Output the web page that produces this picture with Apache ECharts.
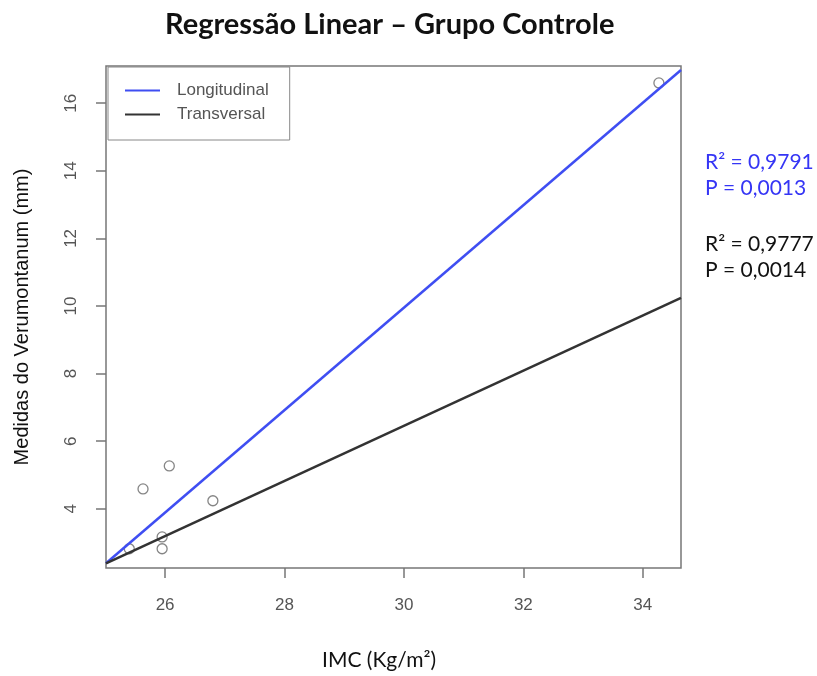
<!DOCTYPE html>
<html>
<head>
<meta charset="utf-8">
<script src="https://cdn.jsdelivr.net/npm/echarts@6/dist/echarts.min.js"></script>
<style>
  html, body { margin: 0; padding: 0; background: #fff; }
  #chart { width: 817px; height: 676px; }
</style>
</head>
<body>
<div id="chart"></div>
<script>
  // pontos observados (IMC x medida)
  const imc = [25.40, 25.63, 25.95, 25.95, 26.07, 26.80, 34.27];
  const medidas = [2.82, 4.59, 3.17, 2.82, 5.27, 4.24, 16.6];

  // retas de regressão, nos extremos do eixo x
  const retaX = [25.01, 34.64];
  const longitudinal = [2.39, 16.98];
  const transversal = [2.39, 10.24];

  const xTicks = [26, 28, 30, 32, 34];
  const yTicks = [4, 6, 8, 10, 12, 14, 16];

  const pontos = imc.map((x, i) => [x, medidas[i]]);
  const linhaLong = retaX.map((x, i) => [x, longitudinal[i]]);
  const linhaTrans = retaX.map((x, i) => [x, transversal[i]]);

  let chart = echarts.init(document.getElementById('chart'));

  var option = {
    animation: false,
    title: {
      text: 'Regressão Linear – Grupo Controle',
      left: 160,
      top: 5,
      textStyle: { fontFamily: 'Lato', fontWeight: 'bold', fontSize: 29, color: '#111' }
    },
    legend: {
      data: ['Longitudinal', 'Transversal'],
      orient: 'vertical',
      left: 108,
      top: 67,
      padding: [15, 21, 17, 17],
      borderColor: '#888',
      borderWidth: 1,
      borderRadius: 0,
      icon: 'rect',
      itemWidth: 35,
      itemHeight: 2,
      itemGap: 7,
      textStyle: { fontFamily: 'Liberation Sans', fontSize: 17, color: '#555', lineHeight: 15, padding: [0, 0, 0, 12] }
    },
    grid: {
      left: 106,
      right: 136,
      top: 66,
      bottom: 108,
      show: true,
      borderColor: '#777',
      borderWidth: 1.5
    },
    xAxis: {
      type: 'value',
      min: retaX[0],
      max: retaX[1],
      axisLine: { show: false },
      splitLine: { show: false },
      axisTick: { show: true, length: 10, customValues: xTicks, lineStyle: { color: '#777', width: 1.5 } },
      axisLabel: { customValues: xTicks, margin: 29, fontFamily: 'Liberation Sans', fontSize: 17, color: '#555' }
    },
    yAxis: {
      type: 'value',
      min: 2.25,
      max: 17.1,
      name: 'Medidas do Verumontanum (mm)',
      nameLocation: 'middle',
      nameGap: 74,
      nameTextStyle: { fontFamily: 'Liberation Sans', fontSize: 20, color: '#111' },
      axisLine: { show: false },
      splitLine: { show: false },
      axisTick: { show: true, length: 10, customValues: yTicks, lineStyle: { color: '#777', width: 1.5 } },
      axisLabel: { customValues: yTicks, rotate: 90, margin: 26, fontFamily: 'Liberation Sans', fontSize: 17, color: '#555' }
    },
    series: [
      {
        name: 'Longitudinal',
        type: 'line',
        data: linhaLong,
        showSymbol: false,
        color: '#3f4ef2',
        lineStyle: { color: '#3f4ef2', width: 2.5 },
        z: 3
      },
      {
        name: 'Transversal',
        type: 'line',
        data: linhaTrans,
        showSymbol: false,
        color: '#333',
        lineStyle: { color: '#333', width: 2.5 },
        z: 3
      },
      {
        name: 'pontos',
        type: 'scatter',
        data: pontos,
        symbol: 'circle',
        symbolSize: 10,
        itemStyle: { color: 'rgba(255,255,255,0)', borderColor: '#666', borderWidth: 1.3 },
        z: 2
      }
    ],
    graphic: [
      { type: 'text', left: 322, top: 650, style: { text: 'IMC (Kg/m²)', fontFamily: 'Lato', fontSize: 21, fill: '#111' } },
      { type: 'text', left: 705, top: 152, style: { text: 'R² = 0,9791', fontFamily: 'Lato', fontSize: 21, fill: '#3535f5' } },
      { type: 'text', left: 705, top: 178, style: { text: 'P = 0,0013', fontFamily: 'Lato', fontSize: 21, fill: '#3535f5' } },
      { type: 'text', left: 705, top: 234, style: { text: 'R² = 0,9777', fontFamily: 'Lato', fontSize: 21, fill: '#111' } },
      { type: 'text', left: 705, top: 260, style: { text: 'P = 0,0014', fontFamily: 'Lato', fontSize: 21, fill: '#111' } }
    ]
  };

  chart.setOption(option);
</script>
</body>
</html>
